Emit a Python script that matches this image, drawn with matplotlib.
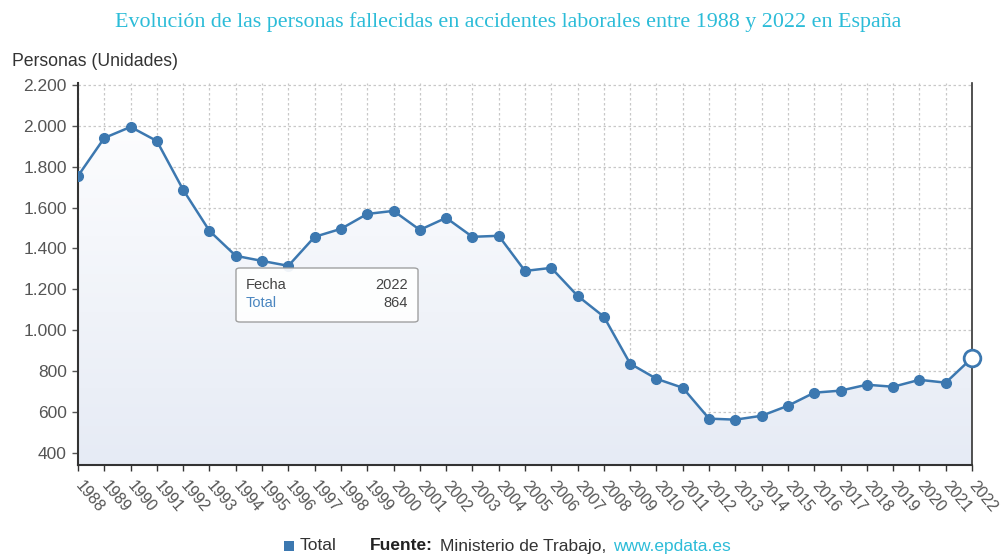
import matplotlib
matplotlib.use("Agg")
import matplotlib.pyplot as plt
import numpy as np
from matplotlib.patches import FancyBboxPatch, Rectangle
from matplotlib.ticker import FuncFormatter

plt.rcParams['font.family'] = ['Liberation Sans', 'DejaVu Sans']

years = list(range(1988, 2023))
total = [1755, 1941, 1995, 1926, 1687, 1486, 1364, 1339, 1315, 1457,
         1496, 1569, 1584, 1491, 1550, 1457, 1462, 1290, 1305, 1168,
         1066, 836, 762, 718, 567, 562, 581, 630, 694, 704,
         733, 723, 757, 743, 864]
yticks = [400, 600, 800, 1000, 1200, 1400, 1600, 1800, 2000, 2200]

line_col = '#3c78b0'
title_col = '#2cbcd8'
tick_col = '#555555'

fig = plt.figure(figsize=(10.05, 5.54), dpi=100)
ax = fig.add_axes([78 / 1005, 1 - 465 / 554, (972 - 78) / 1005, (465 - 83) / 554])

x = np.array(years)
y = np.array(total)
ymin, ymax = 340, 2210

# gradient fill under the line
grad = np.linspace(0, 1, 256).reshape(-1, 1)
img = ax.imshow(grad, extent=[x[0], x[-1], ymin, ymax], origin='upper',
                aspect='auto', cmap=matplotlib.colors.LinearSegmentedColormap.from_list(
                    'g', ['#ffffff', '#e6ebf5']), zorder=1)
poly = ax.fill_between(x, y, ymin, color='none')
img.set_clip_path(poly.get_paths()[0], transform=ax.transData)

ax.plot(x[:-1], y[:-1], color=line_col, lw=1.8, marker='o', ms=7, zorder=3)
ax.plot(x[-2:], y[-2:], color=line_col, lw=1.8, zorder=3)
ax.plot(x[-1], y[-1], marker='o', ms=12, mfc='white', mec=line_col, mew=2, zorder=4, clip_on=False)

ax.set_xlim(1988, 2022)
ax.set_ylim(ymin, ymax)
ax.set_xticks(years)
ax.set_xticklabels([str(v) for v in years], rotation=-50, ha='left', va='center',
                   rotation_mode='anchor', fontsize=11.5, color=tick_col)
ax.set_yticks(yticks)
ax.yaxis.set_major_formatter(FuncFormatter(lambda v, p: f"{int(v):,}".replace(',', '.')))
ax.tick_params(axis='y', labelsize=12.5, colors=tick_col, length=4, width=1, pad=4)
ax.tick_params(axis='x', length=4, width=1, colors='#333333', pad=9)
for lab in ax.get_yticklabels():
    lab.set_color(tick_col)
for lab in ax.get_xticklabels():
    lab.set_color(tick_col)

ax.grid(True, color='#c8c8c8', linestyle=(0, (2, 2)), lw=0.9)
ax.set_axisbelow(True)
ax.spines['top'].set_visible(False)
ax.spines['left'].set_color('#333333')
ax.spines['bottom'].set_color('#333333')
ax.spines['right'].set_color('#333333')
ax.spines['left'].set_linewidth(1.5)
ax.spines['bottom'].set_linewidth(1.5)
ax.spines['right'].set_linewidth(1.2)

# tooltip
tip = FancyBboxPatch((236 / 1005, 1 - 322 / 554), (418 - 236) / 1005, (322 - 268) / 554,
                     boxstyle='round,pad=0,rounding_size=0.004', transform=fig.transFigure,
                     facecolor='white', edgecolor='#999999', lw=1, alpha=0.92, zorder=10)
fig.patches.append(tip)
fig.text(246 / 1005, 1 - 285 / 554, 'Fecha', fontsize=10.5, color='#444444', va='center', zorder=11)
fig.text(408 / 1005, 1 - 285 / 554, '2022', fontsize=10.5, color='#444444', va='center', ha='right', zorder=11)
fig.text(246 / 1005, 1 - 303 / 554, 'Total', fontsize=10.5, color='#4a86c0', va='center', zorder=11)
fig.text(408 / 1005, 1 - 303 / 554, '864', fontsize=10.5, color='#444444', va='center', ha='right', zorder=11)

fig.text(0.506, 1 - 22 / 554, 'Evolución de las personas fallecidas en accidentes laborales entre 1988 y 2022 en España',
         ha='center', va='center', fontsize=15.8, color=title_col, family=['Liberation Serif', 'DejaVu Serif'])
fig.text(12 / 1005, 1 - 61 / 554, 'Personas (Unidades)', ha='left', va='center', fontsize=12.7, color='#333333')

# legend / source
fig.patches.append(Rectangle((284 / 1005, 1 - 551 / 554), 10 / 1005, 10 / 554,
                             transform=fig.transFigure, facecolor=line_col, edgecolor='none'))
fy = 1 - 546 / 554
fig.text(300 / 1005, fy, 'Total', fontsize=12.5, color='#333333', va='center')
fig.text(370 / 1005, fy, 'Fuente:', fontsize=12.5, color='#222222', va='center', weight='bold')
fig.text(440 / 1005, fy, 'Ministerio de Trabajo,', fontsize=12.5, color='#333333', va='center')
fig.text(613 / 1005, fy, 'www.epdata.es', fontsize=12.5, color=title_col, va='center')

fig.savefig('out.png', dpi=100)
